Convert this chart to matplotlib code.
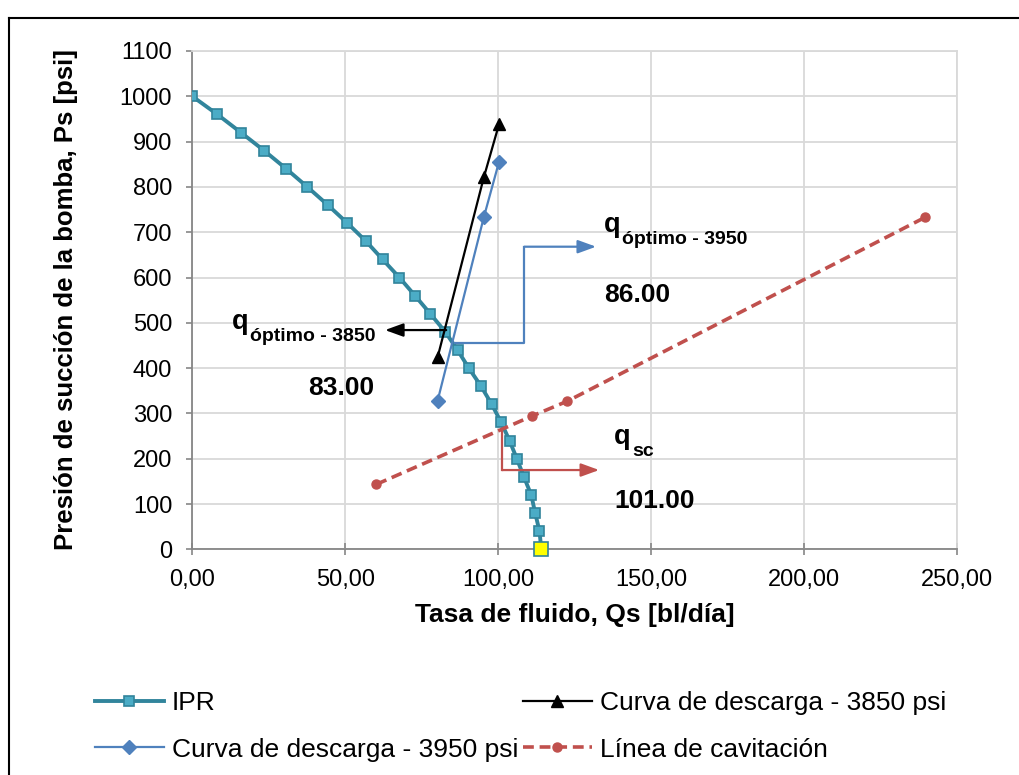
import numpy as np
import matplotlib
matplotlib.use('Agg')
import matplotlib.pyplot as plt
from matplotlib.lines import Line2D

plt.rcParams['font.family'] = ['Liberation Sans', 'DejaVu Sans']

# IPR curve
ipr_q = [0.0, 8.2, 15.9, 23.5, 30.7, 37.6, 44.3, 50.7, 56.8, 62.2, 67.7, 72.8, 77.8,
         82.7, 86.7, 90.4, 94.4, 97.9, 101.0, 103.7, 106.1, 108.4, 110.8, 112.1, 113.5, 114.1]
ipr_p = [1000, 960, 920, 880, 840, 800, 760, 720, 680, 640, 600, 560, 520,
         480, 440, 400, 360, 320, 280, 240, 200, 160, 120, 80, 40, 0]

# discharge curves
d3850_q = [80.2, 95.3, 100.3]
d3850_p = [424, 821, 939]
d3950_q = [80.2, 95.3, 100.3]
d3950_p = [328, 733, 856]

# cavitation line
cav_q = [60.2, 111.0, 122.6, 239.6]
cav_p = [143.5, 294, 327, 733]

# annotated results
q_3850 = 83.00
q_3950 = 86.00
q_sc = 101.00

x_ticks = [0, 50, 100, 150, 200, 250]
y_ticks = list(range(0, 1101, 100))

teal = '#31859C'
blue = '#4F81BD'
red = '#C0504D'

fig = plt.figure(figsize=(10.19, 7.75), dpi=100)
ax = fig.add_axes([0.1887, 0.2912, 0.7505, 0.643])

l_ipr, = ax.plot(ipr_q, ipr_p, color=teal, lw=2.8, marker='s', ms=7.5,
                 mfc='#4BACC6', mec='#31849B', mew=1.2, zorder=3, label='IPR')
ax.plot(ipr_q[-1:], ipr_p[-1:], ls='none', marker='s', ms=10.5, mfc='#FFFF00',
        mec='#31849B', mew=1.2, zorder=6, clip_on=False)
l_38, = ax.plot(d3850_q, d3850_p, color='black', lw=1.6, marker='^', ms=8,
                zorder=4, label='Curva de descarga - 3850 psi')
l_39, = ax.plot(d3950_q, d3950_p, color=blue, lw=1.6, marker='D', ms=7,
                zorder=4, label='Curva de descarga - 3950 psi')
l_cav, = ax.plot(cav_q, cav_p, color=red, lw=2.6, ls=(0, (3, 1.6)), marker='o', ms=6.5,
                 zorder=4, label='Línea de cavitación')

ax.set_xlim(0, 250)
ax.set_ylim(0, 1100)
ax.set_xticks(x_ticks)
ax.set_xticklabels([f'{v:.2f}'.replace('.', ',') for v in x_ticks])
ax.set_yticks(y_ticks)
ax.tick_params(axis='x', direction='inout', length=9, width=1.2, color='#868686',
               labelsize=17, pad=9.5)
ax.tick_params(axis='y', direction='out', length=4.5, width=1.2, color='#868686',
               labelsize=17, pad=10)
ax.grid(True, color='#D9D9D9', lw=1.3)
ax.set_axisbelow(True)
for s in ['left', 'bottom']:
    ax.spines[s].set_color('#868686')
    ax.spines[s].set_linewidth(1.3)
for s in ['top', 'right']:
    ax.spines[s].set_color('#D9D9D9')
    ax.spines[s].set_linewidth(1.3)

fig.text(574.6 / 1019, (775 - 621.7) / 775, 'Tasa de fluido, Qs [bl/día]',
         fontsize=19, fontweight='bold', ha='center', va='baseline')
fig.text(66 / 1019, (775 - 300) / 775, 'Presión de succión de la bomba, Ps [psi]',
         fontsize=18.5, fontweight='bold', ha='center', va='center', rotation=90)

# arrows
arw = dict(arrowstyle='-|>,head_length=0.55,head_width=0.2', lw=1.6,
           mutation_scale=20, shrinkA=0, shrinkB=0)
ax.annotate('', xy=(63.0, 484), xytext=(q_3850, 484),
            arrowprops=dict(color='black', **arw), zorder=5)
ax.plot([q_3950, 108.6, 108.6], [455, 455, 668], color=blue, lw=1.6, zorder=5)
ax.annotate('', xy=(132.0, 668), xytext=(108.6, 668),
            arrowprops=dict(color=blue, **arw), zorder=5)
ax.plot([101.3, 101.3], [260, 175], color=red, lw=1.6, zorder=5)
ax.annotate('', xy=(133.0, 175), xytext=(101.3, 175),
            arrowprops=dict(color=red, **arw), zorder=5)


def q_label(x, y, sub):
    t = ax.text(x, y, 'q', fontsize=19.5, fontweight='bold', va='baseline', ha='left')
    ax.annotate(sub, xy=(1.0, 0.0), xycoords=t, xytext=(1, -4), textcoords='offset points',
                fontsize=14, fontweight='bold', va='baseline', ha='left')


q_label(12.9, 486, 'óptimo - 3850')
ax.text(38.0, 340.6, f'{q_3850:.2f}', fontsize=19, fontweight='bold', va='baseline')
q_label(134.6, 700.4, 'óptimo - 3950')
ax.text(134.6, 546.6, f'{q_3950:.2f}', fontsize=19, fontweight='bold', va='baseline')
q_label(137.9, 232.5, 'sc')
ax.text(137.9, 91.2, f'{q_sc:.2f}', fontsize=19, fontweight='bold', va='baseline')

fig.legend([l_ipr, l_39, l_38, l_cav],
           [l_ipr.get_label(), l_39.get_label(), l_38.get_label(), l_cav.get_label()],
           ncol=2, loc='upper left', bbox_to_anchor=(95 / 1019, 0.108),
           frameon=False, fontsize=19, handlelength=2.6, handletextpad=0.3,
           columnspacing=0.2, labelspacing=0.85, borderpad=0, borderaxespad=0)

# chart area border
fig.add_artist(Line2D([9 / 1019, 9 / 1019], [-0.01, (775 - 18) / 775], color='black', lw=1.5))
fig.add_artist(Line2D([9 / 1019, 1.01], [(775 - 18) / 775, (775 - 18) / 775], color='black', lw=1.5))

fig.savefig('out.png', dpi=100)
plt.close(fig)
